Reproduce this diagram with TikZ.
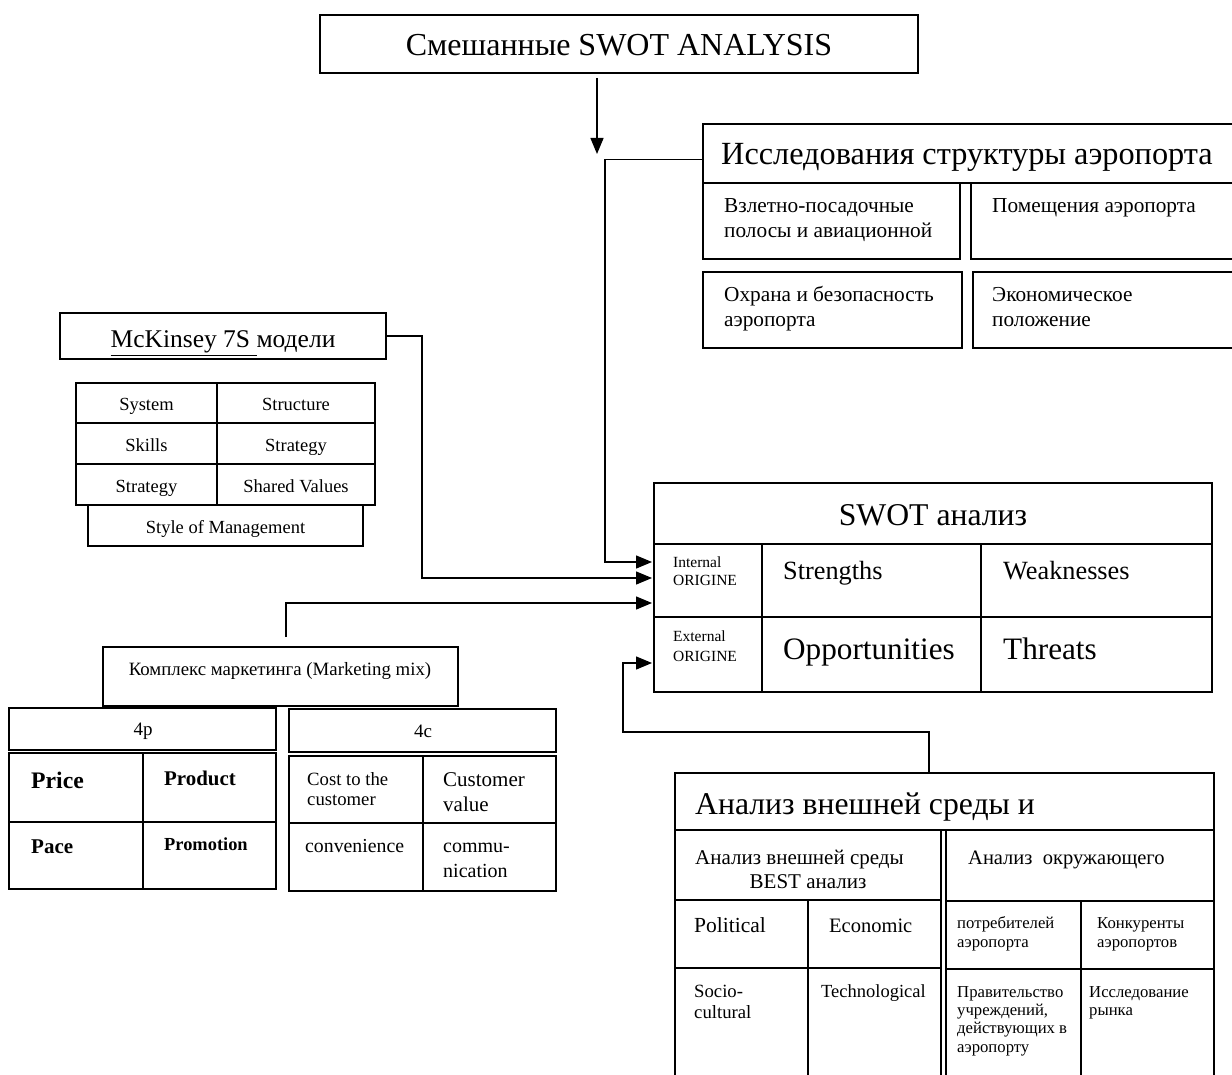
\documentclass[tikz,border=0pt]{standalone}
\usepackage{fontspec}
\setmainfont{Liberation Serif}
\usetikzlibrary{arrows.meta}
\newcommand\fs[1]{\fontsize{#1}{#1}\selectfont}
\newcommand\bx[5]{\node[box, minimum width={#4pt-#2pt}, minimum height={#5pt-#3pt}] (#1) at ({(#2+#4)/2},{(#3+#5)/2}) {};}
% left-aligned text on a baseline: name, x, baseline y, size, text
\newcommand\tx[5]{\node[lbl, font=\fs{#4}] (#1) at (#2,#3) {#5};}
% centred text on a baseline
\newcommand\ctx[5]{\node[clbl, font=\fs{#4}] (#1) at (#2,#3) {#5};}
\tikzset{
 box/.style={draw, line width=1.4pt, inner sep=0pt, outer sep=0pt},
 lbl/.style={inner sep=0pt, anchor=base west},
 clbl/.style={inner sep=0pt, anchor=base},
 arr/.style={line width=1.4pt, -{Triangle[length=16pt,width=13pt]}},
}
\begin{document}
\begin{tikzpicture}[x=1pt,y=-1pt]
\clip (0,0) rectangle (1232,1075);
\fill[white] (0,0) rectangle (1232,1075);
% title
\bx{top}{320}{15}{918}{73}
\ctx{toptxt}{619}{56}{32}{Смешанные SWOT ANALYSIS}
\coordinate (a0) at (597,154);
\draw[arr] (top.south -| a0) ++(0,5) -- (a0);
% airport structure
\bx{air}{703}{124}{1245}{183}
\tx{airtxt}{721}{165}{32.3}{Исследования структуры аэропорта}
\bx{air1}{703}{183}{960}{259}
\bx{air2}{971}{183}{1245}{259}
\bx{air3}{703}{272}{962}{348}
\bx{air4}{973}{272}{1245}{348}
\tx{t1a}{724}{213}{21.3}{Взлетно-посадочные}
\tx{t1b}{724}{238}{21.3}{полосы и авиационной}
\tx{t2a}{992}{213}{21.3}{Помещения аэропорта}
\tx{t3a}{724}{302}{21.3}{Охрана и безопасность}
\tx{t3b}{724}{327}{21.3}{аэропорта}
\tx{t4a}{992}{302}{21.3}{Экономическое}
\tx{t4b}{992}{327}{21.3}{положение}
% McKinsey
\bx{mck}{60}{313}{386}{359}
\ctx{mcktxt}{223}{348}{25.5}{\underline{McKinsey 7S\ }модели}
\bx{m11}{76}{383}{217}{423}
\bx{m12}{217}{383}{375}{423}
\bx{m21}{76}{423}{217}{464}
\bx{m22}{217}{423}{375}{464}
\bx{m31}{76}{464}{217}{505}
\bx{m32}{217}{464}{375}{505}
\bx{m4}{88}{505}{363}{546}
\foreach \n/\t in {m11/System,m12/Structure,m21/Skills,m22/Strategy,m31/Strategy,m32/Shared Values,m4/Style of Management}
  \node[clbl, font=\fs{18.5}] (\n txt) at ([yshift=-7.5pt]\n.center) {\t};
% SWOT
\bx{sw}{654}{483}{1212}{692}
\bx{swh}{654}{483}{1212}{544}
\bx{s11}{654}{544}{762}{617}
\bx{s12}{762}{544}{981}{617}
\bx{s13}{981}{544}{1212}{617}
\bx{s21}{654}{617}{762}{692}
\bx{s22}{762}{617}{981}{692}
\bx{s23}{981}{617}{1212}{692}
\ctx{swtxt}{933}{525}{31.7}{SWOT анализ}
\tx{in1}{673}{567}{15.5}{Internal}
\tx{in2}{673}{585}{15.5}{ORIGINE}
\tx{ex1}{673}{641}{15.5}{External}
\tx{ex2}{673}{661}{15.5}{ORIGINE}
\tx{str}{783}{579}{26.3}{Strengths}
\tx{wea}{1003}{579}{26.3}{Weaknesses}
\tx{opp}{783}{659}{31.2}{Opportunities}
\tx{thr}{1003}{659}{31.2}{Threats}
\coordinate (e1) at (652,562);
\coordinate (e2) at (652,578);
\coordinate (e3) at (652,603);
\coordinate (e4) at (652,663);
\draw[arr] ([yshift=-6pt]air.west) -| (605,562) -- (e1);
\draw[arr] (mck.east) -| (422,578) -- (e2);
\coordinate (mk0) at (286,637);
\draw[arr] (mk0) |- (e3);
% marketing mix
\bx{mk}{103}{647}{458}{706}
\ctx{mktxt}{280}{675}{18.8}{Комплекс маркетинга (Marketing mix)}
\bx{p4}{9}{708}{276}{750}
\bx{c4}{289}{709}{556}{752}
\ctx{p4txt}{143}{735}{19}{4p}
\ctx{c4txt}{423}{737}{19}{4c}
\bx{p11}{9}{753}{143}{822}
\bx{p12}{143}{753}{276}{822}
\bx{p21}{9}{822}{143}{889}
\bx{p22}{143}{822}{276}{889}
\node[lbl, font=\bfseries\fs{23.7}] (price) at (31,788) {Price};
\node[lbl, font=\bfseries\fs{20.9}] (product) at (164,785) {Product};
\node[lbl, font=\bfseries\fs{21}] (pace) at (31,853) {Pace};
\node[lbl, font=\bfseries\fs{18.4}] (promo) at (164,850) {Promotion};
\bx{c11}{289}{756}{423}{823}
\bx{c12}{423}{756}{556}{823}
\bx{c21}{289}{823}{423}{891}
\bx{c22}{423}{823}{556}{891}
\tx{cost1}{307}{785}{18.7}{Cost to the}
\tx{cost2}{307}{805}{18.7}{customer}
\tx{cv1}{443}{786}{21}{Customer}
\tx{cv2}{443}{811}{21}{value}
\tx{conv}{305}{852}{19.8}{convenience}
\tx{com1}{443}{852}{20}{commu-}
\tx{com2}{443}{877}{20}{nication}
% external analysis
\bx{ext}{675}{773}{1214}{1090}
\bx{exth}{675}{773}{1214}{830}
\tx{exttxt}{695}{814}{31.7}{Анализ внешней среды и}
\bx{el}{675}{830}{941}{900}
\bx{er}{946}{830}{1214}{901}
\tx{best1}{695}{864}{21}{Анализ внешней среды}
\ctx{best2}{808}{888}{21}{BEST анализ}
\tx{env}{968}{864}{20.5}{Анализ\ \ окружающего}
\bx{l11}{675}{900}{808}{968}
\bx{l12}{808}{900}{941}{968}
\bx{l21}{675}{968}{808}{1090}
\bx{l22}{808}{968}{941}{1090}
\bx{r11}{946}{901}{1081}{969}
\bx{r12}{1081}{901}{1214}{969}
\bx{r21}{946}{969}{1081}{1090}
\bx{r22}{1081}{969}{1214}{1090}
\tx{pol}{694}{932}{21.5}{Political}
\tx{eco}{829}{932}{20.5}{Economic}
\tx{soc1}{694}{997}{18.7}{Socio-}
\tx{soc2}{694}{1018}{18.7}{cultural}
\tx{tec}{821}{997}{18.5}{Technological}
\tx{cu1}{957}{928}{16.7}{потребителей}
\tx{cu2}{957}{947}{16.7}{аэропорта}
\tx{ko1}{1097}{928}{16.7}{Конкуренты}
\tx{ko2}{1097}{947}{16.7}{аэропортов}
\tx{go1}{957}{997}{16.7}{Правительство}
\tx{go2}{957}{1015}{16.7}{учреждений,}
\tx{go3}{957}{1033}{16.7}{действующих в}
\tx{go4}{957}{1052}{16.7}{аэропорту}
\tx{ma1}{1089}{997}{16.7}{Исследование}
\tx{ma2}{1089}{1015}{16.7}{рынка}
\draw[arr] (ext.north -| 929,0) -- (929,732) -| (623,663) -- (e4);
\end{tikzpicture}
\end{document}
